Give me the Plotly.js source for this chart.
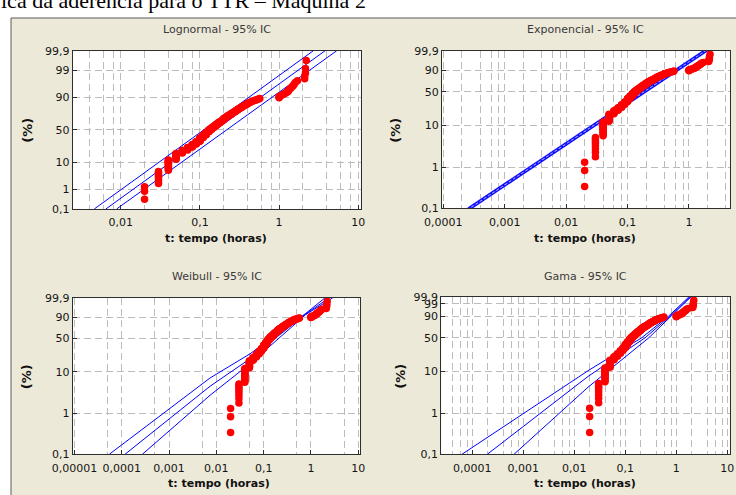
<!DOCTYPE html>
<html><head><meta charset="utf-8">
<script src="https://cdn.plot.ly/plotly-3.0.1.min.js"></script>
<style>html,body{margin:0;padding:0;background:#fff}#chart{width:736px;height:495px}</style>
</head><body><div id="chart"></div>
<script>
// ---- observed repair times (h) and number of records at each time ----
const failTimes  = [0.02,0.03,0.04,0.05,0.06,0.07,0.08,0.09,0.10,0.11,0.12,0.13,0.14,0.15,0.16,0.17,0.18,0.19,0.20,
  0.21,0.22,0.23,0.24,0.25,0.26,0.27,0.28,0.29,0.30,0.31,0.32,0.33,0.34,0.35,0.36,0.37,0.38,0.39,0.40,
  0.42,0.44,0.45,0.47,0.50,0.52,0.55,0.57,
  1.00,1.05,1.10,1.15,1.20,1.25,1.30,1.35,1.40,1.45,1.50,1.55,1.60,1.70,
  2.10,2.15,2.20];
const failCounts = [3,8,14,12,7,7,8,8,11,9,9,8,6,6,5,5,4,4,5,
  3,3,3,2,3,2,2,2,2,2,1,2,1,2,1,1,1,1,1,2,
  1,1,1,1,1,1,1,1,
  3,1,1,1,1,1,2,1,1,1,1,1,1,1,
  2,2,1];

// ---- fitted lines and 95% bounds (time, cumulative %) ----
const lognUpperT = [0.00465, 2.70],  lognUpperP = [0.1, 99.9];
const lognFitT   = [0.00652, 3.80],  lognFitP   = [0.1, 99.9];
const lognLowerT = [0.00891, 5.33],  lognLowerP = [0.1, 99.9];

const expUpperT = [0.000250, 1.73], expUpperP = [0.1, 99.9];
const expFitT   = [0.000269, 1.86], expFitP   = [0.1, 99.9];
const expLowerT = [0.000290, 2.00], expLowerP = [0.1, 99.9];

const weibUpperT = [5.47e-5, 0.00736, 0.0516, 0.75, 1.99], weibUpperP = [0.1, 7.16, 25.3, 93.7, 99.9];
const weibFitT   = [1.175e-4, 0.00736, 0.0516, 0.76, 2.45], weibFitP   = [0.1, 4.55, 19.8, 93.5, 99.9];
const weibLowerT = [2.73e-4, 0.00736, 0.0516, 0.78, 2.89], weibLowerP = [0.1, 2.76, 15.4, 93.2, 99.9];

const gamaUpperT = [6.28e-5, 0.01858, 0.21, 0.70, 1.78], gamaUpperP = [0.1, 10.29, 50, 90, 99.9];
const gamaFitT   = [1.97e-4, 0.01858, 0.245, 0.75, 1.86], gamaFitP  = [0.1, 7.58, 50, 90, 99.9];
const gamaLowerT = [6.58e-4, 0.01858, 0.29, 0.80, 1.95], gamaLowerP = [0.1, 4.21, 50, 90, 99.9];

// ---- tick values / labels ----
const lognPctTicks = [0.1,1,10,50,90,99,99.9], lognPctLabels = ['0,1','1','10','50','90','99','99,9'];
const expPctTicks  = [0.1,1,10,50,90,99.9],    expPctLabels  = ['0,1','1','10','50','90','99,9'];
const weibPctTicks = [0.1,1,10,50,90,99.9],    weibPctLabels = ['0,1','1','10','50','90','99,9'];
const gamaPctTicks = [0.1,1,10,50,90,99,99.9], gamaPctLabels = ['0,1','1','10','50','90','99','99,9'];

const lognTimeTicks = [0.01,0.1,1,10], lognTimeLabels = ['0,01','0,1','1','10'];
const expTimeTicks  = [0.0001,0.001,0.01,0.1,1], expTimeLabels = ['0,0001','0,001','0,01','0,1','1'];
const weibTimeTicks = [0.00001,0.0001,0.001,0.01,0.1,1,10], weibTimeLabels = ['0,00001','0,0001','0,001','0,01','0,1','1','10'];
const gamaTimeTicks = [0.0001,0.001,0.01,0.1,1,10], gamaTimeLabels = ['0,0001','0,001','0,01','0,1','1','10'];

const lognMinorGrid = [0.004,0.006,0.008,0.02,0.04,0.06,0.08,0.2,0.4,0.6,0.8,2,4,6,8];
const expMinorGrid  = [0.0002,0.0004,0.0006,0.0008,0.002,0.004,0.006,0.008,0.02,0.04,0.06,0.08,0.2,0.4,0.6,0.8,2,4];
const weibMinorGrid = [0.00005,0.0005,0.005,0.05,0.5,5];
const gamaMinorGrid = [0.00004,0.00006,0.00008,0.0002,0.0004,0.0006,0.0008,0.002,0.004,0.006,0.008,0.02,0.04,0.06,0.08,0.2,0.4,0.6,0.8,2,4,6,8];

// ---- probability-paper transforms ----
function probit(p){
  const a=[-3.969683028665376e+01,2.209460984245205e+02,-2.759285104469687e+02,1.383577518672690e+02,-3.066479806614716e+01,2.506628277459239e+00];
  const b=[-5.447609879822406e+01,1.615858368580409e+02,-1.556989798598866e+02,6.680131188771972e+01,-1.328068155288572e+01];
  const c=[-7.784894002430293e-03,-3.223964580411365e-01,-2.400758277161838e+00,-2.549732539343734e+00,4.374664141464968e+00,2.938163982698783e+00];
  const d=[7.784695709041462e-03,3.224671290700398e-01,2.445134137142996e+00,3.754408661907416e+00];
  const pl=0.02425, ph=1-pl; let q,r;
  if(p<pl){q=Math.sqrt(-2*Math.log(p));return (((((c[0]*q+c[1])*q+c[2])*q+c[3])*q+c[4])*q+c[5])/((((d[0]*q+d[1])*q+d[2])*q+d[3])*q+1);}
  if(p<=ph){q=p-0.5;r=q*q;return (((((a[0]*r+a[1])*r+a[2])*r+a[3])*r+a[4])*r+a[5])*q/(((((b[0]*r+b[1])*r+b[2])*r+b[3])*r+b[4])*r+1);}
  q=Math.sqrt(-2*Math.log(1-p));return -(((((c[0]*q+c[1])*q+c[2])*q+c[3])*q+c[4])*q+c[5])/((((d[0]*q+d[1])*q+d[2])*q+d[3])*q+1);
}
const zN = pct => probit(pct/100);
const zW = pct => Math.log(-Math.log(1 - pct/100));

// empirical plotting positions (median ranks) for every record
const nTot = failCounts.reduce((s,c)=>s+c,0);
const ptT = [], ptP = [];
let rank = 0;
failTimes.forEach((t,i)=>{ for(let k=0;k<failCounts[i];k++){ rank++; ptT.push(t); ptP.push((rank-0.3)/(nTot+0.4)*100); } });

const W = 736, H = 495;
const px = x => x/W, py = y => 1 - y/H;

const BLUE = '#0000ff', RED = '#ff0000';
const traces = [];
function addLine(xa, ya, T, P, tf, extra){
  traces.push(Object.assign({type:'scatter', mode:'lines', x:T, y:P.map(tf), xaxis:xa, yaxis:ya,
    line:{color:BLUE, width:1}, hoverinfo:'skip', showlegend:false}, extra||{}));
}
function addPoints(xa, ya, tf){
  traces.push({type:'scatter', mode:'markers', x:ptT, y:ptP.map(tf), xaxis:xa, yaxis:ya,
    marker:{color:RED, size:7.5, line:{width:0}}, hoverinfo:'skip', showlegend:false, cliponaxis:true});
}
addLine('x','y',lognUpperT,lognUpperP,zN); addLine('x','y',lognFitT,lognFitP,zN); addLine('x','y',lognLowerT,lognLowerP,zN);
addPoints('x','y',zN);
addLine('x2','y2',expFitT,expFitP,zW,{line:{color:'#a9a9ff',width:4}});
addLine('x2','y2',expUpperT,expUpperP,zW,{line:{color:BLUE,width:1.1}});
addLine('x2','y2',expLowerT,expLowerP,zW,{line:{color:BLUE,width:1.1}});
addLine('x2','y2',expFitT,expFitP,zW,{line:{color:BLUE,width:1.2,dash:'2px,3px'}});
addPoints('x2','y2',zW);
addLine('x3','y3',weibUpperT,weibUpperP,zW); addLine('x3','y3',weibFitT,weibFitP,zW); addLine('x3','y3',weibLowerT,weibLowerP,zW);
addPoints('x3','y3',zW);
addLine('x4','y4',gamaUpperT,gamaUpperP,zW); addLine('x4','y4',gamaFitT,gamaFitP,zW); addLine('x4','y4',gamaLowerT,gamaLowerP,zW);
addPoints('x4','y4',zW);

const GRID = '#bcbcbc', DASH = '7px,4px', FRAME = '#2e2e2e';
const tickFont = {family:'DejaVu Sans, sans-serif', size:11, color:'#151515'};
function xAxis(dom, rng, tv, tt, minor, anchor){
  return {type:'log', domain:[px(dom[0]),px(dom[1])], range:rng, anchor:anchor,
    tickmode:'array', tickvals:tv, ticktext:tt, ticks:'inside', ticklen:4, tickcolor:FRAME,
    ticklabelstandoff:3,
    showgrid:true, gridcolor:GRID, griddash:DASH, gridwidth:1,
    minor:{tickmode:'array', tickvals:minor, showgrid:true, gridcolor:GRID, griddash:DASH, gridwidth:1, ticks:''},
    showline:true, mirror:true, linecolor:FRAME, linewidth:1, zeroline:false,
    tickfont:tickFont, fixedrange:true};
}
function yAxis(dom, tv, tt, tf, anchor){
  const lo = tf(0.1), hi = tf(99.9);
  return {domain:[py(dom[1]),py(dom[0])], range:[lo-0.003, hi+0.003], anchor:anchor,
    tickmode:'array', tickvals:tv.map(tf), ticktext:tt, ticks:'inside', ticklen:4, tickcolor:FRAME,
    showgrid:true, gridcolor:GRID, griddash:DASH, gridwidth:1,
    showline:true, mirror:true, linecolor:FRAME, linewidth:1, zeroline:false,
    tickfont:tickFont, fixedrange:true};
}

const titleFont = {family:'DejaVu Sans, sans-serif', size:11, color:'#3a3a3a'};
const boldFont = {family:'DejaVu Sans, sans-serif', size:11, color:'#111', weight:'bold'};
const pctFont = {family:'DejaVu Sans, sans-serif', size:13, color:'#111', weight:'bold'};
function ann(text, x, y, font, extra){
  return Object.assign({text:text, xref:'paper', yref:'paper', x:px(x), y:py(y), xanchor:'center', yanchor:'middle', showarrow:false, font:font}, extra||{});
}
const annotations = [
  ann('ica da aderência para o TTR – Máquina 2', -1, 15, {family:'Liberation Serif, serif', size:22, color:'#000'}, {xanchor:'left', yanchor:'bottom'}),
  ann('Lognormal - 95% IC', 216.7, 30, titleFont),
  ann('Exponencial - 95% IC', 585, 30, titleFont),
  ann('Weibull - 95% IC', 216.5, 276.7, titleFont),
  ann('Gama - 95% IC', 585.5, 276.7, titleFont),
  ann('<b>t: tempo (horas)</b>', 216, 238.3, boldFont),
  ann('<b>t: tempo (horas)</b>', 585, 238.3, boldFont),
  ann('<b>t: tempo (horas)</b>', 219, 483.3, boldFont),
  ann('<b>t: tempo (horas)</b>', 585, 483.3, boldFont),
  ann('<b>(%)</b>', 26.7, 130, pctFont, {textangle:-90}),
  ann('<b>(%)</b>', 394.7, 130, pctFont, {textangle:-90}),
  ann('<b>(%)</b>', 26.7, 376.5, pctFont, {textangle:-90}),
  ann('<b>(%)</b>', 400.3, 376.5, pctFont, {textangle:-90})
];

const plotBoxes = [[72.7,50.7,360.7,209],[442,50.7,729.7,208.3],[72.7,297.7,360,454.3],[441.3,296.7,729.7,454.3]];
const shapes = [{type:'rect', xref:'paper', yref:'paper', x0:px(11), x1:px(740), y0:py(499), y1:py(18),
  fillcolor:'#ECE9D8', line:{color:'#5a5a5a', width:1}, layer:'below'}]
  .concat(plotBoxes.map(b=>({type:'rect', xref:'paper', yref:'paper', x0:px(b[0]), x1:px(b[2]), y0:py(b[3]), y1:py(b[1]),
  fillcolor:'#ffffff', line:{width:0}, layer:'below'})));

const layout = {
  width:W, height:H, margin:{l:0,r:0,t:0,b:0}, paper_bgcolor:'#ffffff', plot_bgcolor:'rgba(0,0,0,0)',
  showlegend:false, hovermode:false,
  xaxis:  xAxis(plotBoxes[0].filter((v,i)=>i%2===0), [-2.606,1.03], lognTimeTicks, lognTimeLabels, lognMinorGrid, 'y'),
  yaxis:  yAxis([plotBoxes[0][1],plotBoxes[0][3]], lognPctTicks, lognPctLabels, zN, 'x'),
  xaxis2: xAxis(plotBoxes[1].filter((v,i)=>i%2===0), [-4.021,0.663], expTimeTicks, expTimeLabels, expMinorGrid, 'y2'),
  yaxis2: yAxis([plotBoxes[1][1],plotBoxes[1][3]], expPctTicks, expPctLabels, zW, 'x2'),
  xaxis3: xAxis(plotBoxes[2].filter((v,i)=>i%2===0), [-5.036,1.036], weibTimeTicks, weibTimeLabels, weibMinorGrid, 'y3'),
  yaxis3: yAxis([plotBoxes[2][1],plotBoxes[2][3]], weibPctTicks, weibPctLabels, zW, 'x3'),
  xaxis4: xAxis(plotBoxes[3].filter((v,i)=>i%2===0), [-4.608,1.047], gamaTimeTicks, gamaTimeLabels, gamaMinorGrid, 'y4'),
  yaxis4: yAxis([plotBoxes[3][1],plotBoxes[3][3]], gamaPctTicks, gamaPctLabels, zW, 'x4'),
  annotations: annotations, shapes: shapes
};
Plotly.newPlot('chart', traces, layout, {displayModeBar:false, staticPlot:true});
</script></body></html>
